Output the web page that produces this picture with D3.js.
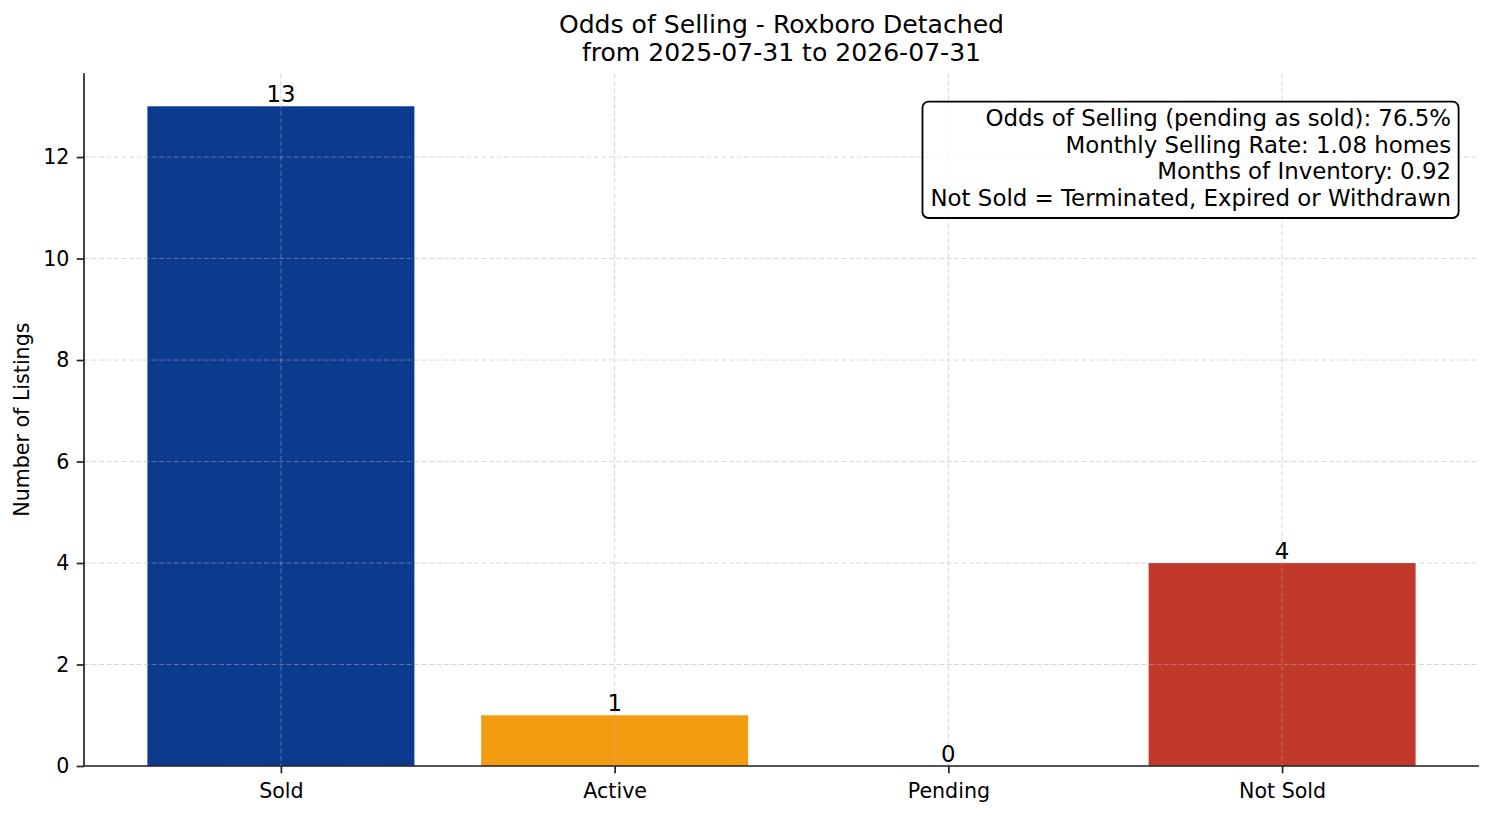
<!DOCTYPE html>
<html>
<head>
<meta charset="utf-8">
<script src="https://cdn.jsdelivr.net/npm/d3@7"></script>
<style>
  body { margin: 0; background: #fff; }
  svg { display: block; font-family: "DejaVu Sans", sans-serif; }
</style>
</head>
<body>
<div id="chart"></div>
<script>
// chart data
const categories = ["Sold", "Active", "Pending", "Not Sold"];
const counts = [13, 1, 0, 4];
const yTicks = [0, 2, 4, 6, 8, 10, 12];
const titleLines = ["Odds of Selling - Roxboro Detached", "from 2025-07-31 to 2026-07-31"];
const statLines = [
    "Odds of Selling (pending as sold): 76.5%",
    "Monthly Selling Rate: 1.08 homes",
    "Months of Inventory: 0.92",
    "Not Sold = Terminated, Expired or Withdrawn"
];

const barColor = {"Sold": "#0b3a8e", "Active": "#f39c12", "Pending": "#f1c40f", "Not Sold": "#c0392b"};

const W = 1494, H = 816;
const plotL = 84, plotR = 1479, plotT = 73.3, plotB = 766;

const svg = d3.select("#chart").append("svg")
    .attr("width", W)
    .attr("height", H);

// scales, matplotlib style margins around the bars
const x = d3.scaleLinear().domain([-0.59, 3.59]).range([plotL, plotR]);
const y = d3.scaleLinear().domain([0, 13.65]).range([plotB, plotT]);
const barW = x(0.8) - x(0);

// bars
svg.selectAll("rect.bar")
    .data(counts)
    .enter().append("rect")
    .attr("class", "bar")
    .attr("x", (d, i) => x(i) - barW / 2)
    .attr("y", d => y(d))
    .attr("width", barW)
    .attr("height", d => y(0) - y(d))
    .attr("fill", (d, i) => barColor[categories[i]]);

// grid on top of bars (dashed, light)
const grid = svg.append("g")
    .attr("stroke", "#b0b0b0")
    .attr("stroke-opacity", 0.65)
    .attr("stroke-width", 0.8)
    .attr("stroke-dasharray", "5,2.5");
grid.selectAll("line.h")
    .data(yTicks)
    .enter().append("line")
    .attr("x1", plotL).attr("x2", plotR)
    .attr("y1", d => y(d)).attr("y2", d => y(d));
grid.selectAll("line.v")
    .data(categories)
    .enter().append("line")
    .attr("x1", (d, i) => x(i)).attr("x2", (d, i) => x(i))
    .attr("y1", plotT).attr("y2", plotB);

// value labels
svg.selectAll("text.val")
    .data(counts)
    .enter().append("text")
    .attr("class", "val")
    .attr("x", (d, i) => x(i))
    .attr("y", d => y(d) - 4.5)
    .attr("text-anchor", "middle")
    .style("font-size", "22.8px")
    .attr("fill", "#000")
    .text(d => d);

// axes
const yAxis = svg.append("g")
    .attr("transform", `translate(${plotL},0)`)
    .call(d3.axisLeft(y).tickValues(yTicks).tickSize(7.3).tickPadding(7.3));
const xAxis = svg.append("g")
    .attr("transform", `translate(0,${plotB})`)
    .call(d3.axisBottom(x).tickValues(d3.range(categories.length))
        .tickFormat(i => categories[i]).tickSize(7.3).tickPadding(7.3));

[yAxis, xAxis].forEach(a => {
    a.select(".domain").attr("stroke", "#222").attr("stroke-width", 1.7);
    a.selectAll(".tick line").attr("stroke", "#222").attr("stroke-width", 1.7);
    a.selectAll(".tick text")
        .attr("fill", "#000")
        .style("font-size", "20.6px")
        .style("font-family", "DejaVu Sans");
});
// axis lines without the end caps d3 adds
yAxis.select(".domain").attr("d", `M0,${plotB}V${plotT}`);
xAxis.select(".domain").attr("d", `M${plotL},0H${plotR}`);
xAxis.selectAll(".tick text").attr("dy", null).attr("y", 31.5);

// axis label
svg.append("text")
    .attr("transform", `translate(29,${(plotT + plotB) / 2}) rotate(-90)`)
    .attr("text-anchor", "middle")
    .style("font-size", "20.6px")
    .text("Number of Listings");

// title
svg.selectAll("text.title")
    .data(titleLines)
    .enter().append("text")
    .attr("class", "title")
    .attr("x", (plotL + plotR) / 2)
    .attr("y", (d, i) => 33.3 + i * 27.4)
    .attr("text-anchor", "middle")
    .style("font-size", "25.1px")
    .text(d => d);

// stats box in the upper right
const box = svg.append("g");
const boxRect = box.append("rect");
const lineY = i => 126 + i * 26.5;
box.selectAll("text")
    .data(statLines)
    .enter().append("text")
    .attr("x", plotL + 0.98 * (plotR - plotL))
    .attr("y", (d, i) => lineY(i))
    .attr("text-anchor", "end")
    .style("font-size", "22.9px")
    .text(d => d);
const bb = box.node().getBBox();
boxRect
    .attr("x", bb.x - 8)
    .attr("y", lineY(0) - 24.3)
    .attr("width", bb.width + 15.5)
    .attr("height", lineY(statLines.length - 1) - lineY(0) + 24.3 + 12.5)
    .attr("rx", 6).attr("ry", 6)
    .attr("fill", "#fff").attr("fill-opacity", 0.8)
    .attr("stroke", "#000").attr("stroke-width", 1.8);
</script>
</body>
</html>
